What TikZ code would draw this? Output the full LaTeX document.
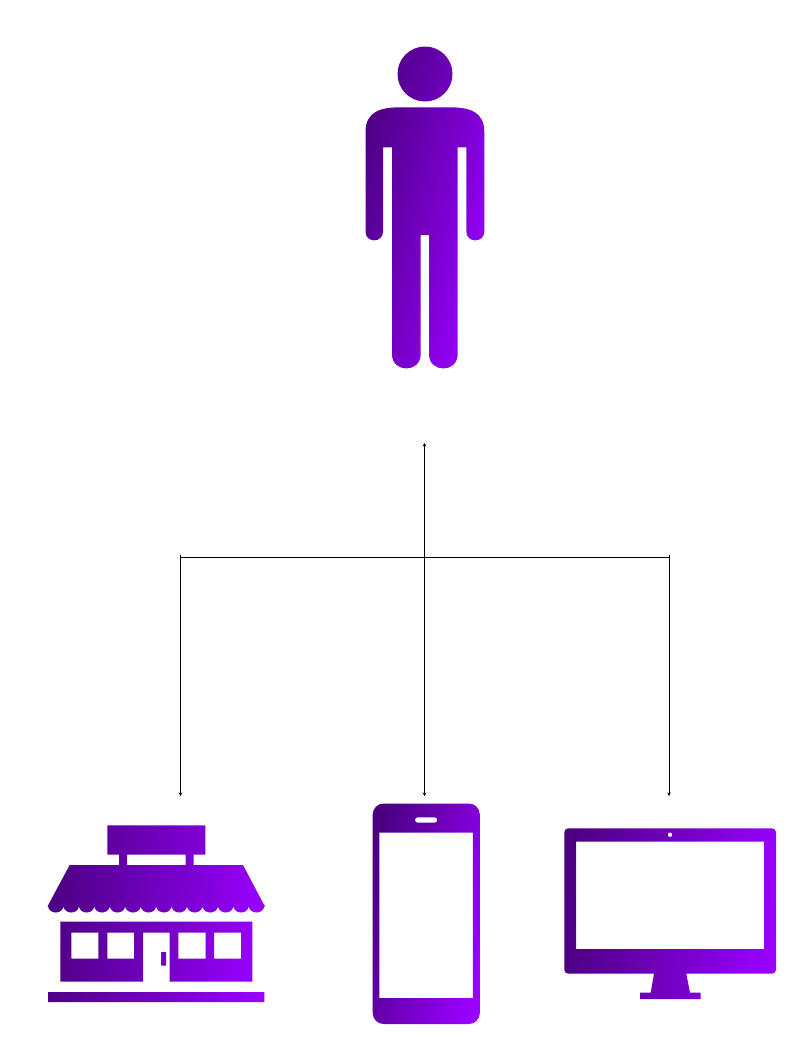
\documentclass[tikz,border=0pt]{standalone}
\usepackage{xcolor}
\definecolor{Icondark}{RGB}{75,0,130}
\definecolor{Iconbright}{RGB}{153,0,255}
\usetikzlibrary{calc, arrows.meta}

\begin{document}
\begin{tikzpicture}[
  x=1pt, y=-1pt,
  iconfill/.style={left color=Icondark, right color=Iconbright, even odd rule},
  wire/.style={black, line width=0.9pt},
  dbarr/.style={wire, {Stealth[length=3.5pt, width=3.5pt]}-{Stealth[length=3.5pt, width=3.5pt]}},
  downarr/.style={wire, -{Stealth[length=3.5pt, width=3.5pt]}}
]
\useasboundingbox (0, 0) rectangle (796, 1037);

%% --- PERSON (top) ---
\shade[iconfill, shading angle=76]
  (425, 74) circle [radius=27.5]
  (365.5, 132) .. controls (365.5, 112) and (380, 107.3) .. (400, 107.3)
  -- (450, 107.3) .. controls (470, 107.3) and (484.3, 112) .. (484.3, 132)
  -- (484.3, 231.5) .. controls (484.3, 243.3) and (466.3, 243.3) .. (466.3, 231.5)
  -- (466.3, 147.3) -- (457.7, 147.3)
  -- (457.7, 354) .. controls (457.7, 373.3) and (429, 373.3) .. (429, 354)
  -- (429, 235) -- (420.7, 235)
  -- (420.7, 354) .. controls (420.7, 373.3) and (392, 373.3) .. (392, 354)
  -- (392, 147.3) -- (383, 147.3)
  -- (383, 231.5) .. controls (383, 243.3) and (365.5, 243.3) .. (365.5, 231.5)
  -- cycle;

%% --- STORE (bottom-left) ---
\shade[iconfill, shading angle=84]
  (107.3, 825.3) rectangle (205.3, 854.7)
  (119, 854.7) rectangle (127, 865)
  (185.7, 854.7) rectangle (193.7, 865)
  (69.7, 865) -- (49, 903.5)
  .. controls (46.5, 908) and (48, 907) .. (48, 906.5)
  \foreach \i in {1,...,14} {
    .. controls +(1.5, 8) and +(-1.5, 8) .. ++(15.45, 0)
  }
  .. controls (265, 907) and (265.8, 906.5) .. (263.3, 903.5)
  -- (243, 865) -- cycle
  (60.3, 921.7) -- (252.3, 921.7) -- (252.3, 981.7) -- (169.7, 981.7)
  -- (169.7, 932.7) -- (143, 932.7) -- (143, 981.7) -- (60.3, 981.7) -- cycle
  (71.3, 932.7) rectangle (98.3, 958.7)
  (107.3, 932.7) rectangle (134, 958.7)
  (178.3, 932.7) rectangle (205.7, 958.7)
  (214, 932.7) rectangle (241, 958.7)
  (161, 952) rectangle (166, 965.7)
  (48, 992) rectangle (264.3, 1002);

%% --- PHONE (bottom-middle) ---
\shade[iconfill, shading angle=76]
  [rounded corners=11pt] (372.7, 803.5) rectangle (479.8, 1024)
  [rounded corners=2.6pt] (415, 817.3) rectangle (437.3, 822.7)
  [sharp corners] (379.3, 832.7) rectangle (472.9, 998);

%% --- MONITOR (bottom-right) ---
\shade[iconfill, shading angle=85]
  [rounded corners=4pt] (564.3, 828.3) rectangle (776, 973.7)
  [sharp corners] (576, 841.7) rectangle (764, 949)
  (670, 834.7) circle [radius=2.3]
  (654, 973.7) -- (686.3, 973.7) -- (690, 992.7) -- (700.7, 992.7)
  -- (700.7, 999) -- (640, 999) -- (640, 992.7) -- (650.7, 992.7) -- cycle;

%% --- ARROWS ---
\coordinate (usertip)   at (424.5, 443);
\coordinate (hub)       at (424.5, 557);
\coordinate (storetop)  at (180.5, 555);
\coordinate (screentop) at (669, 555);
\coordinate (storeend)  at (180.5, 796);
\coordinate (phoneend)  at (424.5, 796);
\coordinate (screenend) at (669, 796);

\draw[dbarr] (usertip) -- (phoneend);
\draw[downarr] (storetop) -- (storeend);
\draw[downarr] (screentop) -- (screenend);
\draw[wire] (storetop |- hub) -- (screentop |- hub);

\end{tikzpicture}
\end{document}
